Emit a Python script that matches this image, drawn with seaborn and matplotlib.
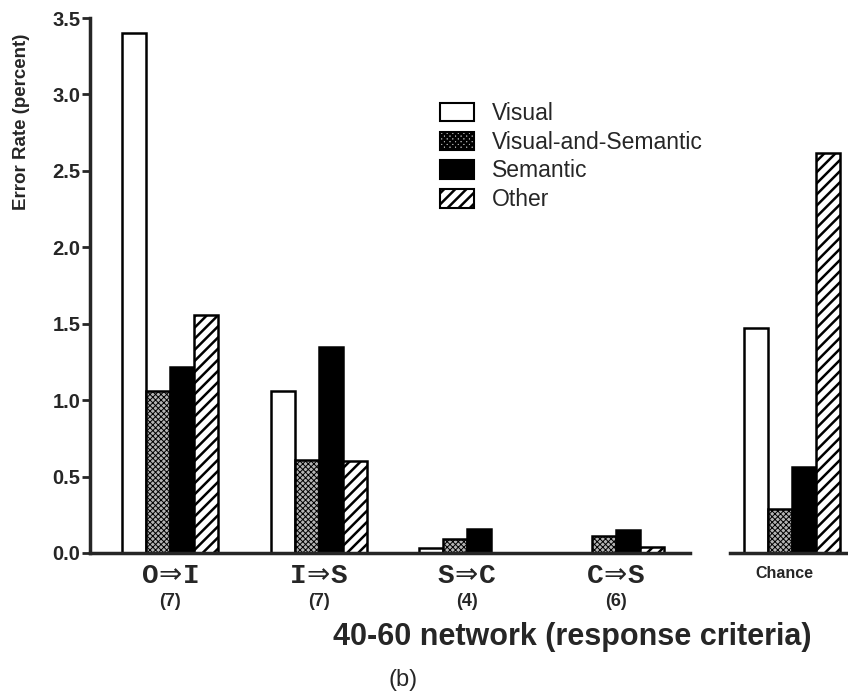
import matplotlib
matplotlib.use("Agg")
import matplotlib.pyplot as plt
from matplotlib.patches import Patch
import seaborn as sns
import pandas as pd

sns.set_style("white")
plt.rcParams['font.family'] = ['Liberation Sans', 'DejaVu Sans']
plt.rcParams['hatch.linewidth'] = 1.8
plt.rcParams['mathtext.fontset'] = 'dejavusans'

# ---- data ----
conditions = ["O\u21d2I", "I\u21d2S", "S\u21d2C", "C\u21d2S"]
counts = ["(7)", "(7)", "(4)", "(6)"]
error_types = ["Visual", "Visual-and-Semantic", "Semantic", "Other"]
visual = [3.40, 1.06, 0.03, 0.00]
visual_sem = [1.06, 0.61, 0.09, 0.11]
semantic = [1.22, 1.35, 0.16, 0.15]
other = [1.56, 0.60, 0.00, 0.04]
chance_label = "Chance"
chance_vals = [1.47, 0.29, 0.56, 2.62]
y_ticks = [0.0, 0.5, 1.0, 1.5, 2.0, 2.5, 3.0, 3.5]

rows = []
for i, c in enumerate(conditions):
    for t, v in zip(error_types, [visual[i], visual_sem[i], semantic[i], other[i]]):
        rows.append({"cond": c, "type": t, "rate": v})
df = pd.DataFrame(rows)
df_ch = pd.DataFrame({"cond": [chance_label] * 4, "type": error_types, "rate": chance_vals})

faces = {"Visual": "white", "Visual-and-Semantic": "#b4b4b4", "Semantic": "black", "Other": "white"}
hatches = {"Visual": "", "Visual-and-Semantic": "xxxxxx", "Semantic": "", "Other": "///"}
hatch_lw = {"Visual": 1.0, "Visual-and-Semantic": 0.7, "Semantic": 1.0, "Other": 1.8}

fig = plt.figure(figsize=(8.48, 6.96), dpi=100)
W, H = 848, 696
bottom_px, top_px = 553, 18
axL = fig.add_axes([90 / W, 1 - bottom_px / H, 600 / W, (bottom_px - top_px) / H])
axR = fig.add_axes([730 / W, 1 - bottom_px / H, 118 / W, (bottom_px - top_px) / H])


def style_patch(p, t):
    p.set_hatch(hatches[t])
    p.set_facecolor(faces[t])
    p.set_edgecolor("black")
    if hasattr(p, "set_hatch_linewidth"):
        p.set_hatch_linewidth(hatch_lw[t])


bar_w = 0.646
for ax, d in [(axL, df), (axR, df_ch)]:
    sns.barplot(data=d, x="cond", y="rate", hue="type", hue_order=error_types,
                palette=faces, width=bar_w, gap=0, edgecolor="black", linewidth=1.8,
                saturation=1, legend=False, ax=ax, errorbar=None)
    for cont, t in zip(ax.containers, error_types):
        for p in cont.patches:
            style_patch(p, t)
    ax.set_ylim(0, 3.5)
    ax.set_xlabel("")
    ax.set_ylabel("")
    ax.set_xticks(ax.get_xticks())
    ax.set_xticklabels([])
    ax.tick_params(axis="x", length=0)
    for s in ["top", "right"]:
        ax.spines[s].set_visible(False)
    ax.spines["bottom"].set_linewidth(2.5)

axL.set_xlim(-0.54, 3.5)
axR.set_xlim(-0.42, 0.38)

axL.spines["left"].set_linewidth(2.5)
axL.set_yticks(y_ticks)
axL.set_yticklabels([f"{v:.1f}" for v in y_ticks], fontsize=14.5, fontweight="bold")
axL.tick_params(axis="y", direction="out", length=6, width=2, pad=1, left=True)
axR.spines["left"].set_visible(False)
axR.set_yticks([])

xt = axL.get_xaxis_transform()
ax_h = bottom_px - top_px
for i, (c, n) in enumerate(zip(conditions, counts)):
    lbl = c.replace("\u21d2", r"$\!{\Rightarrow}\!$")
    axL.text(i, -(576 - bottom_px) / ax_h, lbl, transform=xt, ha="center", va="center",
             fontsize=20, family=["Liberation Mono", "DejaVu Sans Mono"], fontweight="bold")
    axL.text(i, -(602 - bottom_px) / ax_h, n, transform=xt, ha="center", va="center",
             fontsize=13, fontweight="bold")
axR.text(-0.05, -(573 - bottom_px) / ax_h, chance_label, transform=axR.get_xaxis_transform(),
         ha="center", va="center", fontsize=11.5, fontweight="bold")

fig.text(22 / W, 1 - 122 / H, "Error Rate (percent)", rotation=90, ha="center", va="center",
         fontsize=13.5, fontweight="bold")
fig.text(572 / W, 1 - 637 / H, "40-60 network (response criteria)", ha="center", va="center",
         fontsize=22, fontweight="bold")
fig.text(403 / W, 1 - 680 / H, "(b)", ha="center", va="center", fontsize=17)

handles = []
for t in error_types:
    hp = Patch(facecolor=faces[t], edgecolor="black", hatch=hatches[t], linewidth=1.5)
    if hasattr(hp, "set_hatch_linewidth"):
        hp.set_hatch_linewidth(hatch_lw[t])
    handles.append(hp)
fig.legend(handles, error_types, loc="upper left", bbox_to_anchor=(440 / W, 1 - 102 / H),
           frameon=False, fontsize=16.5, borderpad=0, borderaxespad=0, handlelength=1.48,
           handleheight=0.87, handletextpad=0.79, labelspacing=0.25)

fig.savefig("out.png", dpi=100)
